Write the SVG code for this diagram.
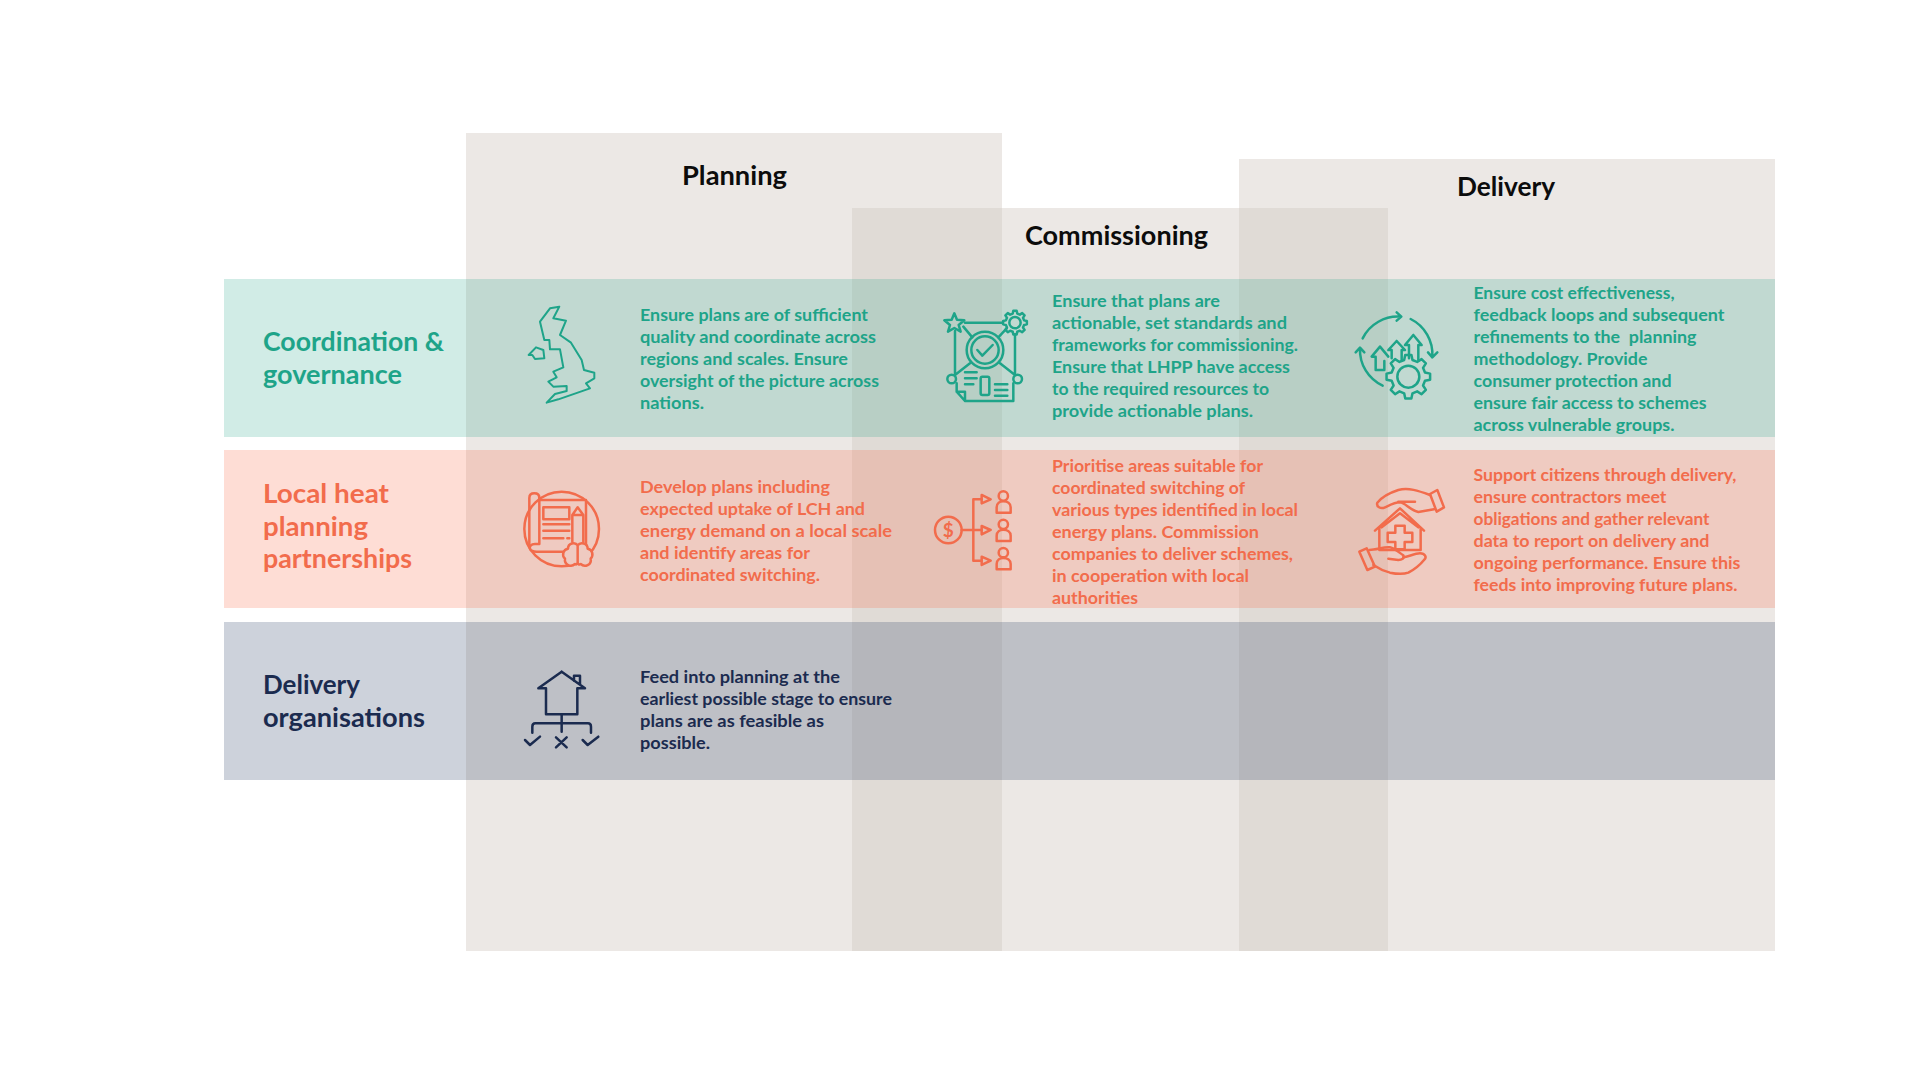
<svg xmlns="http://www.w3.org/2000/svg" xmlns:xlink="http://www.w3.org/1999/xlink" width="1920" height="1080" viewBox="0 0 1920 1080">
<style>
text{font-family:"Lato","Liberation Sans",sans-serif;font-weight:700}
.body{font-size:17.5px}
.head{font-size:27px}
.col{font-size:27px;fill:#0c0c0c}
.teal{fill:#1EA489}.coral{fill:#F26C4C}.navy{fill:#1B2B4F}
.ic *{fill:none;stroke-width:2.5px;stroke-linejoin:round;stroke-linecap:round;vector-effect:non-scaling-stroke}
#gear{vector-effect:non-scaling-stroke}
#icon-map *{stroke-width:2px}
.ict *{stroke:#1EA489}.icc *{stroke:#F26C4C}.icn *{stroke:#1B2B4F}
</style>
<defs>
<polygon id="gear" points="75.7,-18.9 99,-13.9 99,13.9 75.7,18.9 66.9,40.2 79.8,60.2 60.2,79.8 40.2,66.9 18.9,75.7 13.9,99 -13.9,99 -18.9,75.7 -40.2,66.9 -60.2,79.8 -79.8,60.2 -66.9,40.2 -75.7,18.9 -99,13.9 -99,-13.9 -75.7,-18.9 -66.9,-40.2 -79.8,-60.2 -60.2,-79.8 -40.2,-66.9 -18.9,-75.7 -13.9,-99 13.9,-99 18.9,-75.7 40.2,-66.9 60.2,-79.8 79.8,-60.2 66.9,-40.2"/>
</defs>
<rect width="1920" height="1080" fill="#fff"/>
<g id="columns">
<rect x="466" y="133" width="536" height="818" fill="#ECE8E5"/>
<rect x="852" y="208" width="536" height="743" fill="#ECE8E5"/>
<rect x="1239" y="159" width="536" height="792" fill="#ECE8E5"/>
<rect x="852" y="208" width="150" height="743" fill="#E0DBD6"/>
<rect x="1239" y="208" width="149" height="743" fill="#E0DBD6"/>
</g>
<g id="bands">
<rect x="224" y="279" width="1551" height="158" fill="#19A082" fill-opacity=".2"/>
<rect x="224" y="450" width="1551" height="158" fill="#FA6B48" fill-opacity=".23"/>
<rect x="224" y="622" width="1551" height="158" fill="#1B325B" fill-opacity=".22"/>
</g>
<g id="col-planning"><text class="col" x="682" y="184.500" textLength="105" lengthAdjust="spacingAndGlyphs">Planning</text></g>
<g id="col-commissioning"><text class="col" x="1025" y="245" textLength="183" lengthAdjust="spacingAndGlyphs">Commissioning</text></g>
<g id="col-delivery"><text class="col" x="1457" y="196" textLength="98" lengthAdjust="spacingAndGlyphs">Delivery</text></g>
<g id="row-coordination" class="teal">
<text class="head" x="263" y="351" textLength="181" lengthAdjust="spacingAndGlyphs">Coordination &amp;</text>
<text class="head" x="263" y="384" textLength="139" lengthAdjust="spacingAndGlyphs">governance</text>
</g>
<g id="row-local" class="coral">
<text class="head" x="263" y="503" textLength="126" lengthAdjust="spacingAndGlyphs">Local heat</text>
<text class="head" x="263" y="536" textLength="105" lengthAdjust="spacingAndGlyphs">planning</text>
<text class="head" x="263" y="568" textLength="149" lengthAdjust="spacingAndGlyphs">partnerships</text>
</g>
<g id="row-delivery" class="navy">
<text class="head" x="263" y="694" textLength="97" lengthAdjust="spacingAndGlyphs">Delivery</text>
<text class="head" x="263" y="727" textLength="162" lengthAdjust="spacingAndGlyphs">organisations</text>
</g>
<g id="text-planning-coord" class="body teal">
<text x="640" y="321" textLength="228" lengthAdjust="spacingAndGlyphs">Ensure plans are of sufficient</text>
<text x="640" y="343" textLength="236" lengthAdjust="spacingAndGlyphs">quality and coordinate across</text>
<text x="640" y="365" textLength="208" lengthAdjust="spacingAndGlyphs">regions and scales. Ensure</text>
<text x="640" y="387" textLength="239" lengthAdjust="spacingAndGlyphs">oversight of the picture across</text>
<text x="640" y="409" textLength="64" lengthAdjust="spacingAndGlyphs">nations.</text>
</g>
<g id="text-planning-local" class="body coral">
<text x="640" y="493" textLength="190" lengthAdjust="spacingAndGlyphs">Develop plans including</text>
<text x="640" y="515" textLength="225" lengthAdjust="spacingAndGlyphs">expected uptake of LCH and</text>
<text x="640" y="537" textLength="252" lengthAdjust="spacingAndGlyphs">energy demand on a local scale</text>
<text x="640" y="559" textLength="170" lengthAdjust="spacingAndGlyphs">and identify areas for</text>
<text x="640" y="581" textLength="180" lengthAdjust="spacingAndGlyphs">coordinated switching.</text>
</g>
<g id="text-planning-delivery" class="body navy">
<text x="640" y="683" textLength="200" lengthAdjust="spacingAndGlyphs">Feed into planning at the</text>
<text x="640" y="705" textLength="252" lengthAdjust="spacingAndGlyphs">earliest possible stage to ensure</text>
<text x="640" y="727" textLength="184" lengthAdjust="spacingAndGlyphs">plans are as feasible as</text>
<text x="640" y="749" textLength="70" lengthAdjust="spacingAndGlyphs">possible.</text>
</g>
<g id="text-commissioning-coord" class="body teal">
<text x="1052" y="307" textLength="168" lengthAdjust="spacingAndGlyphs">Ensure that plans are</text>
<text x="1052" y="329" textLength="235" lengthAdjust="spacingAndGlyphs">actionable, set standards and</text>
<text x="1052" y="351" textLength="246" lengthAdjust="spacingAndGlyphs">frameworks for commissioning.</text>
<text x="1052" y="373" textLength="238" lengthAdjust="spacingAndGlyphs">Ensure that LHPP have access</text>
<text x="1052" y="395" textLength="217" lengthAdjust="spacingAndGlyphs">to the required resources to</text>
<text x="1052" y="417" textLength="201" lengthAdjust="spacingAndGlyphs">provide actionable plans.</text>
</g>
<g id="text-commissioning-local" class="body coral">
<text x="1052" y="472" textLength="211" lengthAdjust="spacingAndGlyphs">Prioritise areas suitable for</text>
<text x="1052" y="494" textLength="193" lengthAdjust="spacingAndGlyphs">coordinated switching of</text>
<text x="1052" y="516" textLength="246" lengthAdjust="spacingAndGlyphs">various types identified in local</text>
<text x="1052" y="538" textLength="207" lengthAdjust="spacingAndGlyphs">energy plans. Commission</text>
<text x="1052" y="560" textLength="241" lengthAdjust="spacingAndGlyphs">companies to deliver schemes,</text>
<text x="1052" y="582" textLength="197" lengthAdjust="spacingAndGlyphs">in cooperation with local</text>
<text x="1052" y="604" textLength="86" lengthAdjust="spacingAndGlyphs">authorities</text>
</g>
<g id="text-delivery-coord" class="body teal">
<text x="1473.500" y="299" textLength="201" lengthAdjust="spacingAndGlyphs">Ensure cost effectiveness,</text>
<text x="1473.500" y="321" textLength="251" lengthAdjust="spacingAndGlyphs">feedback loops and subsequent</text>
<text x="1473.500" y="343" textLength="223" lengthAdjust="spacingAndGlyphs" xml:space="preserve">refinements to the  planning</text>
<text x="1473.500" y="365" textLength="174" lengthAdjust="spacingAndGlyphs">methodology. Provide</text>
<text x="1473.500" y="387" textLength="198" lengthAdjust="spacingAndGlyphs">consumer protection and</text>
<text x="1473.500" y="409" textLength="233" lengthAdjust="spacingAndGlyphs">ensure fair access to schemes</text>
<text x="1473.500" y="431" textLength="201" lengthAdjust="spacingAndGlyphs">across vulnerable groups.</text>
</g>
<g id="text-delivery-local" class="body coral">
<text x="1473.500" y="481" textLength="263" lengthAdjust="spacingAndGlyphs">Support citizens through delivery,</text>
<text x="1473.500" y="503" textLength="193" lengthAdjust="spacingAndGlyphs">ensure contractors meet</text>
<text x="1473.500" y="525" textLength="236" lengthAdjust="spacingAndGlyphs">obligations and gather relevant</text>
<text x="1473.500" y="547" textLength="236" lengthAdjust="spacingAndGlyphs">data to report on delivery and</text>
<text x="1473.500" y="569" textLength="267" lengthAdjust="spacingAndGlyphs">ongoing performance. Ensure this</text>
<text x="1473.500" y="591" textLength="264" lengthAdjust="spacingAndGlyphs">feeds into improving future plans.</text>
</g>
<g id="icon-map" class="ic ict" transform="translate(500 290) scale(.3333)">
<path d="M178 50L150 55L120 95L133 150L148 150L150 178L180 178L190 232L160 245L170 262L145 275L160 290L200 288L200 303L165 312L140 338L175 328L270 295L258 280L283 265L283 248L252 240L245 210L213 158L180 135L198 92L160 85Z"/>
<path d="M86 195L108 172L130 180L133 205L105 207L97 195Z"/>
</g>
<g id="icon-standards" class="ic ict" transform="translate(930 295) scale(.3333)">
<polygon points="73,55 81,74 103,76 86,90 92,110 73,99 54,110 60,90 43,76 65,74"/>
<use xlink:href="#gear" transform="translate(255 83) scale(.36)"/>
<circle cx="255" cy="83" r="17"/>
<circle cx="165" cy="165" r="55"/><circle cx="165" cy="165" r="41"/>
<path d="M142 165L157 182L188 150"/>
<path d="M105 83H218M75 108V240M255 118V240M100 95L127 127M230 100L205 127M120 205L75 240M210 205L255 240"/>
<circle cx="65" cy="252" r="13"/><circle cx="263" cy="252" r="13"/>
<rect x="152" y="245" width="26" height="55" rx="5"/>
<path d="M80 265V290L105 318H250V265M80 290H105V318M105 232H140M105 250H140M105 268H130M195 268H232M195 285H232M195 302H232"/>
</g>
<g id="icon-cycle" class="ic ict" transform="translate(1340 295) scale(.3333)">
<path d="M68 130A118 118 0 0 1 182 65M170 52L184 65L170 77"/>
<path d="M212 72A118 118 0 0 1 277 185M264 172L277 187L292 172"/>
<path d="M128 272A118 118 0 0 1 60 160M47 172L60 158L73 172"/>
<path d="M120 155L95 185H107V225H133V198M120 155L145 185"/>
<path d="M170 138L145 165H155V190M170 138L195 165H185V195"/>
<path d="M220 120L195 150H207V190M220 120L245 150H235V195"/>
<use xlink:href="#gear" transform="translate(205 245) scale(.66)"/>
<circle cx="205" cy="245" r="33"/>
</g>
<g id="icon-plan" class="ic icc" transform="translate(510 470) scale(.3333)">
<circle cx="155" cy="177" r="112"/>
<path d="M88 90H228V225M88 85V222H75C62 222 58 230 60 236C62 243 70 245 80 245H170" style="fill:#EFCAC1"/>
<path d="M58 225V84C58 76 63 70 73 70C83 70 88 76 88 84"/>
<rect x="100" y="112" width="78" height="36"/>
<path d="M100 163H178M100 182H178M100 205H160M172 205H178"/>
<path d="M187 215V135L203 112L220 135V215M187 135H220"/>
<path d="M203 226C195 214 174 220 174 236C160 238 154 255 165 266C162 284 183 294 195 282C199 285 203 282 203 276C203 282 207 285 212 282C224 294 246 284 242 266C252 255 247 238 233 236C233 220 212 214 203 226V276" style="fill:#EFCAC1"/>
</g>
<g id="icon-funding" class="ic icc" transform="translate(920 470) scale(.3333)">
<circle cx="85" cy="180" r="40"/>
<path d="M125 180H185M160 88V272M160 88H185M160 272H185"/>
<path d="M185 75L212 88L185 100ZM185 168L212 180L185 193ZM185 260L212 272L185 285Z"/>
<circle cx="250" cy="78" r="14"/><path d="M230 128V112C230 100 240 94 250 94C262 94 272 100 272 112V128Z"/>
<circle cx="250" cy="163" r="14"/><path d="M230 213V197C230 185 240 179 250 179C262 179 272 185 272 197V213Z"/>
<circle cx="250" cy="248" r="14"/><path d="M230 298V282C230 270 240 264 250 264C262 264 272 270 272 282V298Z"/>
</g>
<text x="948.300" y="537" font-size="19" class="coral" text-anchor="middle">$</text>
<g id="icon-care" class="ic icc" transform="translate(1340 470) scale(.3333)">
<path d="M270 75C235 62 205 52 175 60C150 68 125 82 112 98C108 110 122 118 135 112C150 105 165 97 180 97C195 98 210 120 235 126L282 118"/>
<path d="M175 95H225"/>
<polygon points="270,72 292,60 312,112 290,125"/>
<path d="M105 182L180 115L252 182M125 172L180 130L235 172M118 175V240H242V175"/>
<polygon points="166,167 194,167 194,188 217,188 217,216 194,216 194,238 166,238 166,216 143,216 143,188 166,188"/>
<polygon points="58,245 80,235 105,290 82,300"/>
<path d="M88 240C110 240 130 230 150 232C165 235 180 250 190 256C195 265 185 270 175 270L145 266"/>
<path d="M190 262C205 260 225 250 240 250C255 250 262 262 252 270C240 285 220 300 205 308C190 313 170 312 150 308C130 303 115 295 100 285"/>
</g>
<g id="icon-org" class="ic icn" transform="translate(510 660) scale(.3333)">
<path d="M155 35L85 85H108V163H202V85H225L155 35M192 62V47H210V72"/>
<path d="M155 163V215M67 218V200C67 194 70 190 76 190H234C240 190 243 194 243 200V218"/>
<path d="M45 240L60 255L90 230M138 232L170 262M170 232L138 262M218 240L233 255L265 230"/>
</g>
</svg>
